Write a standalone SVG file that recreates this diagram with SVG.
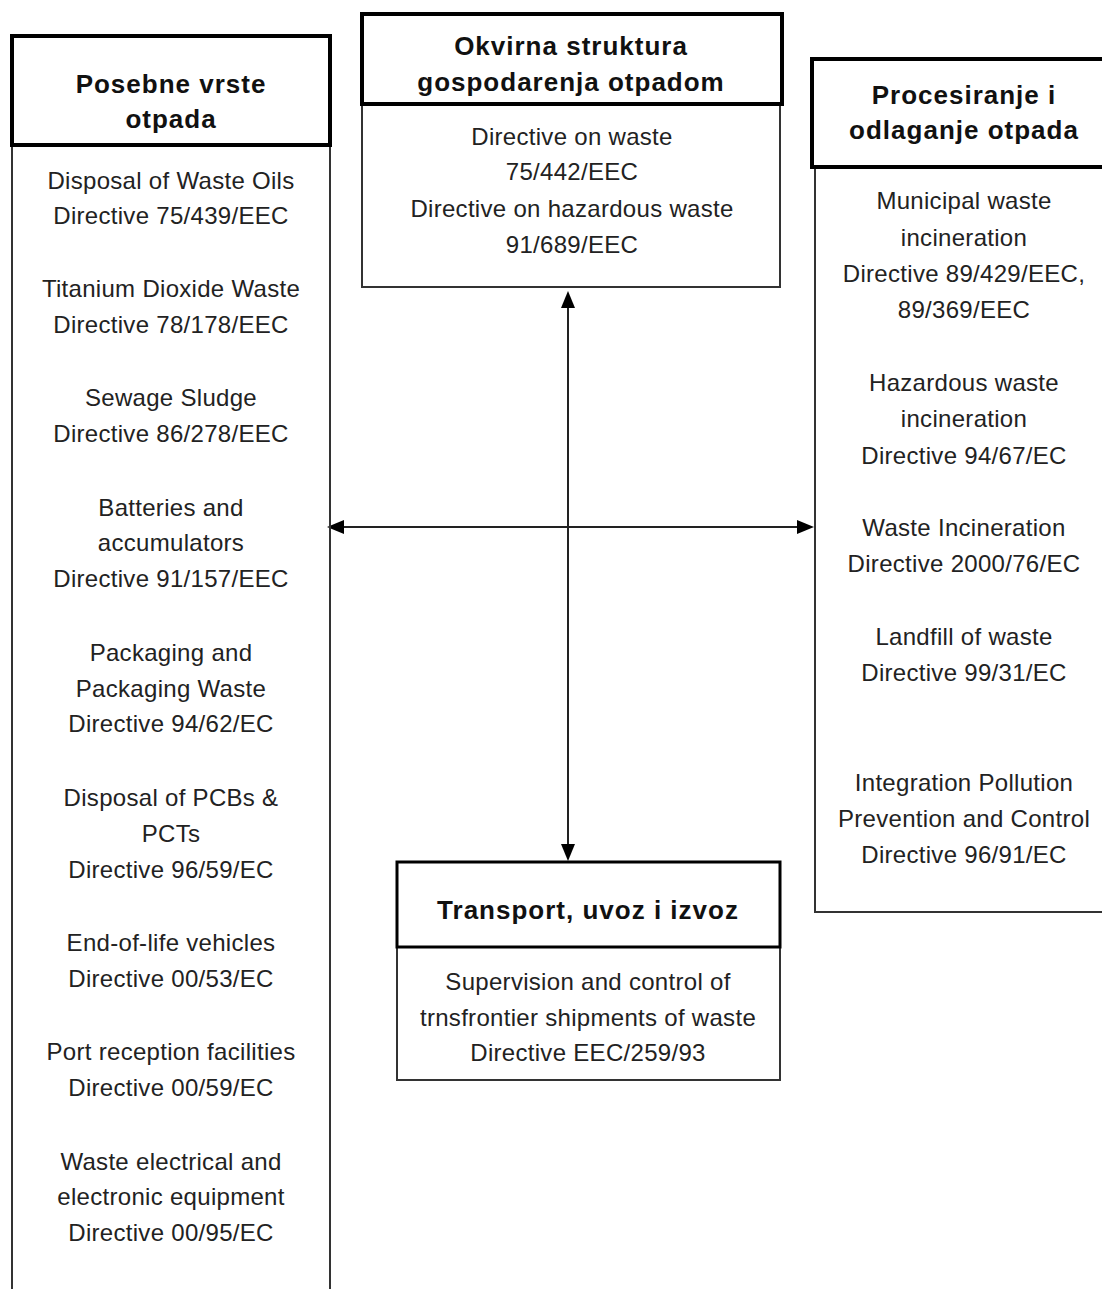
<svg xmlns="http://www.w3.org/2000/svg" width="1102" height="1289" viewBox="0 0 1102 1289">
<style>
.hd{fill:none;stroke:#000;stroke-width:4}
.bd{fill:none;stroke:#333;stroke-width:2}
.h{font-family:"Liberation Sans",Arial,sans-serif;font-weight:bold;font-size:26px;letter-spacing:1px;fill:#111;text-anchor:middle}
.t{font-family:"Liberation Sans",Arial,sans-serif;font-size:24px;letter-spacing:0.3px;fill:#222;text-anchor:middle}
.c{stroke:#222;stroke-width:2;fill:none}
</style>
<rect width="1102" height="1289" fill="#fff"/>
<g id="connectors">
<line class="c" x1="568" y1="295" x2="568" y2="857"/>
<path d="M568,291 l-7,17 h14 z" fill="#000"/>
<path d="M568,861 l-7,-17 h14 z" fill="#000"/>
<line class="c" x1="330" y1="527" x2="810" y2="527" stroke="#555"/>
<path d="M327,527 l17,-7 v14 z" fill="#000"/>
<path d="M814,527 l-17,-7 v14 z" fill="#000"/>
</g>
<g id="posebne">
<rect class="bd" x="12" y="145" width="318" height="1160"/>
<rect class="hd" x="12" y="36" width="318" height="109"/>
<text class="h" x="171" y="93">Posebne vrste</text>
<text class="h" x="171" y="128">otpada</text>
<text class="t" x="171" y="189">Disposal of Waste Oils</text>
<text class="t" x="171" y="224">Directive 75/439/EEC</text>
<text class="t" x="171" y="297">Titanium Dioxide Waste</text>
<text class="t" x="171" y="333">Directive 78/178/EEC</text>
<text class="t" x="171" y="406">Sewage Sludge</text>
<text class="t" x="171" y="442">Directive 86/278/EEC</text>
<text class="t" x="171" y="516">Batteries and</text>
<text class="t" x="171" y="551">accumulators</text>
<text class="t" x="171" y="587">Directive 91/157/EEC</text>
<text class="t" x="171" y="661">Packaging and</text>
<text class="t" x="171" y="697">Packaging Waste</text>
<text class="t" x="171" y="732">Directive 94/62/EC</text>
<text class="t" x="171" y="806">Disposal of PCBs &amp;</text>
<text class="t" x="171" y="842">PCTs</text>
<text class="t" x="171" y="878">Directive 96/59/EC</text>
<text class="t" x="171" y="951">End-of-life vehicles</text>
<text class="t" x="171" y="987">Directive 00/53/EC</text>
<text class="t" x="171" y="1060">Port reception facilities</text>
<text class="t" x="171" y="1096">Directive 00/59/EC</text>
<text class="t" x="171" y="1170">Waste electrical and</text>
<text class="t" x="171" y="1205">electronic equipment</text>
<text class="t" x="171" y="1241">Directive 00/95/EC</text>
</g>
<g id="okvirna">
<rect class="bd" x="362" y="104" width="418" height="183"/>
<rect class="hd" x="362" y="14" width="420" height="90"/>
<text class="h" x="571" y="55">Okvirna struktura</text>
<text class="h" x="571" y="91">gospodarenja otpadom</text>
<text class="t" x="572" y="145">Directive on waste</text>
<text class="t" x="572" y="180">75/442/EEC</text>
<text class="t" x="572" y="217">Directive on hazardous waste</text>
<text class="t" x="572" y="253">91/689/EEC</text>
</g>
<g id="procesiranje">
<rect class="bd" x="815" y="167" width="300" height="745"/>
<rect class="hd" x="812" y="59" width="300" height="108"/>
<text class="h" x="964" y="104">Procesiranje i</text>
<text class="h" x="964" y="139">odlaganje otpada</text>
<text class="t" x="964" y="209">Municipal waste</text>
<text class="t" x="964" y="246">incineration</text>
<text class="t" x="964" y="282">Directive 89/429/EEC,</text>
<text class="t" x="964" y="318">89/369/EEC</text>
<text class="t" x="964" y="391">Hazardous waste</text>
<text class="t" x="964" y="427">incineration</text>
<text class="t" x="964" y="464">Directive 94/67/EC</text>
<text class="t" x="964" y="536">Waste Incineration</text>
<text class="t" x="964" y="572">Directive 2000/76/EC</text>
<text class="t" x="964" y="645">Landfill of waste</text>
<text class="t" x="964" y="681">Directive 99/31/EC</text>
<text class="t" x="964" y="791">Integration Pollution</text>
<text class="t" x="964" y="827">Prevention and Control</text>
<text class="t" x="964" y="863">Directive 96/91/EC</text>
</g>
<g id="transport">
<rect class="bd" x="397" y="947" width="383" height="133"/>
<rect class="hd" x="397" y="862" width="383" height="85" style="stroke-width:3"/>
<text class="h" x="588" y="919">Transport, uvoz i izvoz</text>
<text class="t" x="588" y="990">Supervision and control of</text>
<text class="t" x="588" y="1026">trnsfrontier shipments of waste</text>
<text class="t" x="588" y="1061">Directive EEC/259/93</text>
</g>
</svg>
